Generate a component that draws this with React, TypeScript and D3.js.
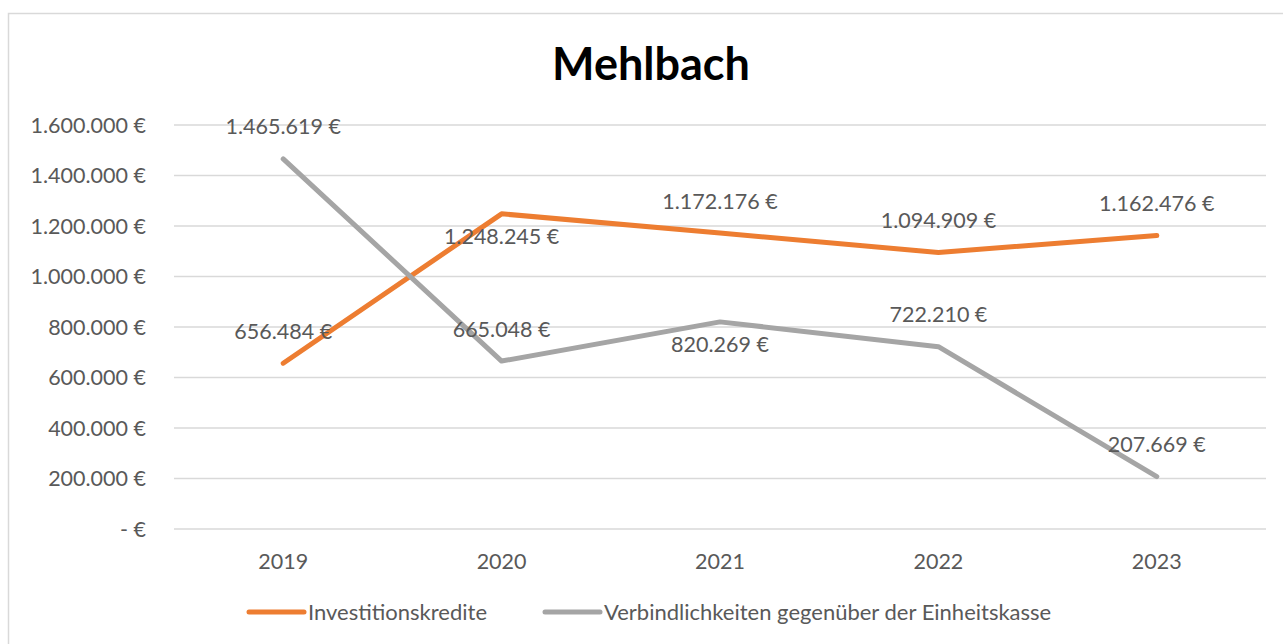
import React, { useRef, useEffect } from "react";
import * as d3 from "d3";

const years = ["2019", "2020", "2021", "2022", "2023"];
const investitionskredite = [656484, 1248245, 1172176, 1094909, 1162476];
const verbindlichkeiten = [1465619, 665048, 820269, 722210, 207669];
const yTicks = [0, 200000, 400000, 600000, 800000, 1000000, 1200000, 1400000, 1600000];
const seriesNames = ["Investitionskredite", "Verbindlichkeiten gegenüber der Einheitskasse"];

// label above (-1) or below (+1) the point, as in the original chart
const labelSide = [
  [-1, 1, -1, -1, -1],
  [-1, -1, 1, -1, -1],
];

const W = 1283;
const H = 644;
const colors = ["#ED7D31", "#A5A5A5"];
const textColor = "#595959";
const font = "Lato, 'Open Sans', sans-serif";
const fs = 21.5;

const fmt = (v: number) =>
  v === 0 ? "- €" : d3.format(",")(v).replace(/,/g, ".") + " €";

const App = () => {
  const svgRef = useRef<SVGSVGElement>(null);

  useEffect(() => {
    const svg = d3.select(svgRef.current);
    svg.selectAll("*").remove();

    const x = d3.scaleBand().domain(years).range([174, 1266]);
    const y = d3.scaleLinear().domain([0, 1600000]).range([529, 125]);

    // chart frame
    svg
      .append("rect")
      .attr("x", 8.5)
      .attr("y", 13.5)
      .attr("width", 1290)
      .attr("height", 650)
      .attr("fill", "#fff")
      .attr("stroke", "#d9d9d9")
      .attr("stroke-width", 1.5);

    svg
      .append("text")
      .attr("x", 651)
      .attr("y", 80)
      .attr("text-anchor", "middle")
      .attr("font-family", font)
      .attr("font-weight", "bold")
      .attr("font-size", 45)
      .attr("fill", "#000")
      .text("Mehlbach");

    // grid
    svg
      .append("g")
      .selectAll("line")
      .data(yTicks)
      .join("line")
      .attr("x1", 174)
      .attr("x2", 1266)
      .attr("y1", (d) => y(d))
      .attr("y2", (d) => y(d))
      .attr("stroke", "#d9d9d9")
      .attr("stroke-width", 1.5);

    svg
      .append("g")
      .selectAll("text")
      .data(yTicks)
      .join("text")
      .attr("x", 146)
      .attr("y", (d) => y(d))
      .attr("dy", "0.35em")
      .attr("text-anchor", "end")
      .attr("font-family", font)
      .attr("font-size", fs)
      .attr("fill", textColor)
      .text((d) => fmt(d));

    svg
      .append("g")
      .selectAll("text")
      .data(years)
      .join("text")
      .attr("x", (d) => x(d)! + x.bandwidth() / 2)
      .attr("y", 561)
      .attr("dy", "0.35em")
      .attr("text-anchor", "middle")
      .attr("font-family", font)
      .attr("font-size", fs)
      .attr("fill", textColor)
      .text((d) => d);

    const line = d3
      .line<number>()
      .x((_, i) => x(years[i])! + x.bandwidth() / 2)
      .y((d) => y(d));

    [investitionskredite, verbindlichkeiten].forEach((vals, s) => {
      svg
        .append("path")
        .attr("d", line(vals))
        .attr("fill", "none")
        .attr("stroke", colors[s])
        .attr("stroke-width", 5)
        .attr("stroke-linejoin", "round")
        .attr("stroke-linecap", "round");
    });

    [investitionskredite, verbindlichkeiten].forEach((vals, s) => {
      svg
        .append("g")
        .selectAll("text")
        .data(vals)
        .join("text")
        .attr("x", (_, i) => x(years[i])! + x.bandwidth() / 2)
        .attr("y", (d, i) => y(d) + (labelSide[s][i] < 0 ? -32 : 23))
        .attr("dy", "0.35em")
        .attr("text-anchor", "middle")
        .attr("font-family", font)
        .attr("font-size", fs)
        .attr("fill", textColor)
        .text((d) => fmt(d));
    });

    // legend
    const legend = svg.append("g").attr("transform", "translate(0,612)");
    const lx = [249, 545];
    seriesNames.forEach((name, s) => {
      legend
        .append("line")
        .attr("x1", lx[s])
        .attr("x2", lx[s] + 55)
        .attr("stroke", colors[s])
        .attr("stroke-width", 5)
        .attr("stroke-linecap", "round");
      legend
        .append("text")
        .attr("x", lx[s] + 59)
        .attr("dy", "0.35em")
        .attr("font-family", font)
        .attr("font-size", 22)
        .attr("fill", textColor)
        .text(name);
    });
  }, []);

  return (
    <svg
      ref={svgRef}
      width={W}
      height={H}
      style={{ position: "fixed", left: 0, top: 0, background: "#fff" }}
    />
  );
};

export default App;
